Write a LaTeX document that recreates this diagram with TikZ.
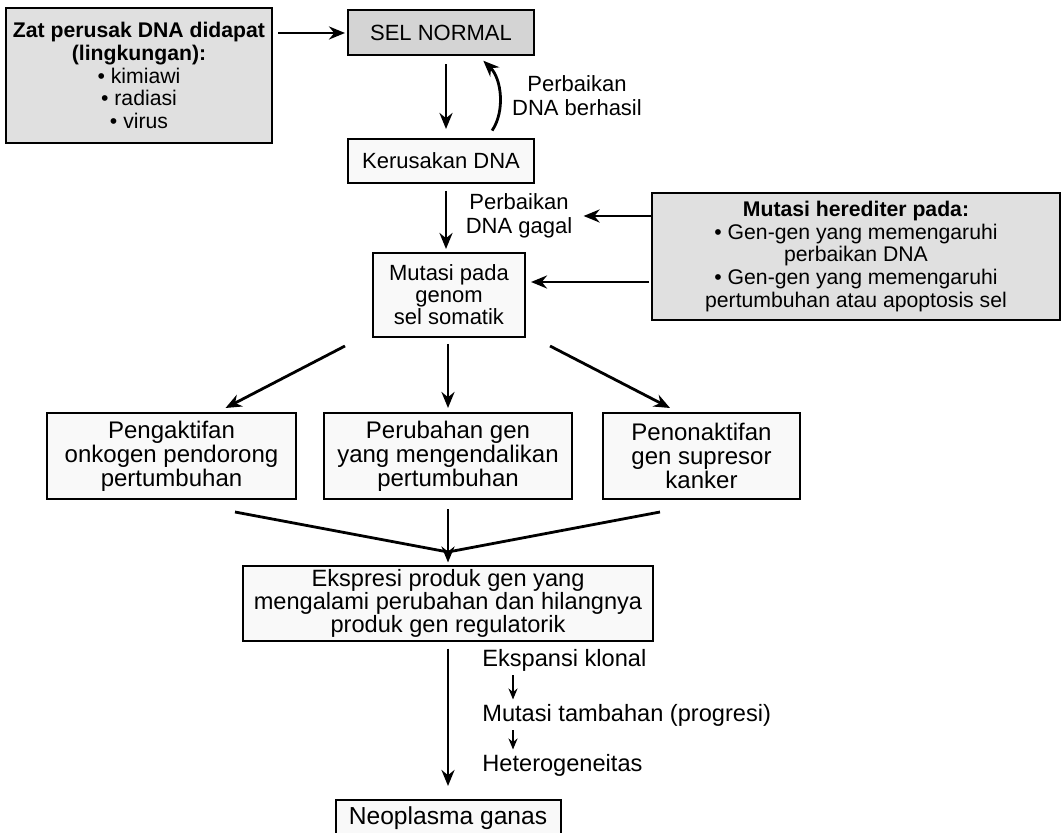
\documentclass[tikz,border=0pt]{standalone}
\usepackage{fontspec}
\setmainfont{Liberation Sans}
\usetikzlibrary{arrows.meta}
\tikzset{
  >={Stealth[length=8pt,width=6.5pt]},
  box/.style={draw, line width=1pt, fill=gray!5, align=center, inner sep=0pt, font=\fontsize{11}{12}\selectfont},
  shadebox/.style={box, fill=gray!24, font=\fontsize{10.6}{11.4}\selectfont},
  darkbox/.style={box, fill=gray!34},
  note/.style={align=center, inner sep=0pt, font=\fontsize{11}{12}\selectfont},
  tinyarrow/.style={->, >={Stealth[length=5.5pt,width=4.5pt]}, line width=1pt}
}
\begin{document}
\begin{tikzpicture}[x=0.5pt,y=-0.5pt,line width=1.4pt]
\useasboundingbox (0,0) rectangle (1064,833);
\clip (0,0) rectangle (1064,833);
\fill[white] (0,0) rectangle (1064,833);
% top part
\node[shadebox, minimum width=133pt, minimum height=67.5pt] (zat) at (139,75.5) {\textbf{Zat perusak DNA didapat}\\\textbf{(lingkungan):}\\\textbullet\ kimiawi\\\textbullet\ radiasi\\\textbullet\ virus};
\node[darkbox, minimum width=93pt, minimum height=22.5pt] (sel) at (441,33) {SEL NORMAL};
\node[box, minimum width=93pt, minimum height=22pt] (ker) at (441,161) {Kerusakan DNA};
\node[note] (berhasil) at (577,96) {Perbaikan\\DNA berhasil};
\node[note] (gagal) at (519,216) {Perbaikan\\DNA gagal};
\node[box, minimum width=76pt, minimum height=42pt, font=\fontsize{11}{11}\selectfont] (mut) at (449,295) {Mutasi pada\\genom\\sel somatik};
\node[shadebox, minimum width=204pt, minimum height=63.5pt] (hered) at (856,256.5) {\textbf{Mutasi herediter pada:}\\\textbullet\ Gen-gen yang memengaruhi\\perbaikan DNA\\\textbullet\ Gen-gen yang memengaruhi\\pertumbuhan atau apoptosis sel};
\draw[->, shorten <=2.5pt, shorten >=1pt] (zat.east |- sel.west) -- (sel.west);
\draw[->, shorten <=4pt, shorten >=4.5pt] ([xshift=2.5pt]sel.south) -- ([xshift=2.5pt]ker.north);
\draw[->, shorten <=4.5pt, shorten >=3pt] ([xshift=23pt]ker.north) to[bend right=40] ([xshift=19pt]sel.south);
\draw[->, shorten <=3.5pt, shorten >=1.5pt] ([xshift=2.5pt]ker.south) -- ([xshift=2.5pt]ker.south |- mut.north);
\draw[->, shorten >=5pt] (hered.west |- gagal.east) -- (gagal.east);
\coordinate (h2) at ([yshift=-12.75pt]hered.west);
\draw[->, shorten <=1pt, shorten >=2.5pt] (h2) -- (h2 -| mut.east);
% three ways
\node[box, minimum width=124.5pt, minimum height=43pt, font=\fontsize{12}{12}\selectfont] (akt) at (171.5,456) {Pengaktifan\\onkogen pendorong\\pertumbuhan};
\node[box, minimum width=124pt, minimum height=43pt, font=\fontsize{12}{12}\selectfont] (ubah) at (448,456) {Perubahan gen\\yang mengendalikan\\pertumbuhan};
\node[box, minimum width=98.5pt, minimum height=43pt, font=\fontsize{12}{12}\selectfont] (non) at (701.5,456) {Penonaktifan\\gen supresor\\kanker};
\draw[->] ([shift={(-104,8)}]mut.south) -- ([shift={(54,-4)}]akt.north);
\draw[->, shorten <=3pt, shorten >=2pt] (mut.south -| ubah.north) -- (ubah.north);
\draw[->] ([shift={(101,8)}]mut.south) -- ([shift={(-31.5,-4)}]non.north);
\coordinate (join) at ([yshift=-26pt]ubah.south);
\draw ([shift={(63.5,12)}]akt.south) -- (join);
\draw ([shift={(-41.5,12)}]non.south) -- (join);
% bottom part
\node[box, minimum width=205pt, minimum height=37.5pt, font=\fontsize{11.8}{11.5}\selectfont] (eks) at (448,603) {Ekspresi produk gen yang\\mengalami perubahan dan hilangnya\\produk gen regulatorik};
\draw[->, shorten <=4.5pt, shorten >=1pt] (ubah.south) -- (eks.north);
\node[box, minimum width=112.5pt, minimum height=18pt, font=\fontsize{12.3}{12.3}\selectfont] (neo) at (448,818) {Neoplasma ganas};
\draw[->, shorten <=3.5pt, shorten >=6.5pt] (eks.south) -- (neo.north);
\node[note, anchor=base west, font=\fontsize{11.8}{12}\selectfont] (klon) at (481,666) {Ekspansi klonal};
\node[note, anchor=base west, font=\fontsize{11.8}{12}\selectfont] (tamb) at (481,721) {Mutasi tambahan (progresi)};
\node[note, anchor=base west, font=\fontsize{11.8}{12}\selectfont] (het) at (481,771) {Heterogeneitas};
\draw[tinyarrow, shorten <=1.5pt, shorten >=1.5pt] ([xshift=16pt]klon.south west) -- ([xshift=16pt]tamb.north west);
\draw[tinyarrow, shorten <=1.5pt, shorten >=1.5pt] ([xshift=16pt]tamb.south west) -- ([xshift=16pt]het.north west);
\end{tikzpicture}
\end{document}
